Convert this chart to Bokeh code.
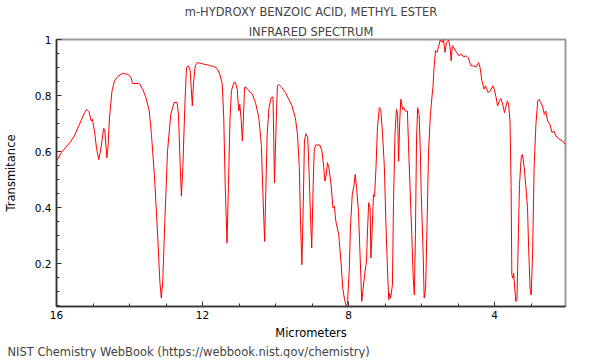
from bokeh.plotting import figure
from bokeh.models import Range1d, FixedTicker, Title
from bokeh.embed import file_html
from bokeh.resources import INLINE

title_line1 = "m-HYDROXY BENZOIC ACID, METHYL ESTER"
title_line2 = "INFRARED SPECTRUM"
x_label = "Micrometers"
y_label = "Transmitance"
footer = "NIST Chemistry WebBook (https://webbook.nist.gov/chemistry)"

x_major = [16, 12, 8, 4]
x_minor = [15, 14, 13, 11, 10, 9, 7, 6, 5, 3]
y_major = [0.2, 0.4, 0.6, 0.8, 1.0]
y_minor = [round(0.05 * i, 2) for i in range(1, 20)]

wavelength_um = [
    16.0, 15.87, 15.64, 15.51, 15.37, 15.23, 15.17, 15.11, 15.05, 15.02,
    14.96, 14.90, 14.84, 14.78, 14.71, 14.68, 14.62, 14.59, 14.55, 14.48,
    14.41, 14.32, 14.18, 14.12, 14.05, 13.96, 13.92, 13.73, 13.64, 13.55,
    13.46, 13.40, 13.32, 13.23, 13.17, 13.13, 13.09, 13.04, 12.96, 12.87,
    12.78, 12.70, 12.66, 12.61, 12.58, 12.54, 12.48, 12.44, 12.39, 12.34,
    12.28, 12.25, 12.20, 12.14, 12.05, 11.96, 11.87, 11.78, 11.69, 11.60,
    11.53, 11.46, 11.42, 11.38, 11.33, 11.29, 11.25, 11.21, 11.14, 11.10,
    11.05, 11.01, 10.98, 10.94, 10.91, 10.88, 10.85, 10.81, 10.73, 10.64,
    10.55, 10.46, 10.39, 10.34, 10.30, 10.27, 10.23, 10.18, 10.12, 10.07,
    10.03, 9.98, 9.95, 9.92, 9.83, 9.73, 9.64, 9.55, 9.46, 9.40,
    9.35, 9.32, 9.28, 9.24, 9.21, 9.17, 9.12, 9.08, 9.04, 9.01,
    8.97, 8.94, 8.90, 8.79, 8.73, 8.68, 8.65, 8.61, 8.58, 8.54,
    8.48, 8.43, 8.39, 8.35, 8.27, 8.21, 8.16, 8.11, 8.06, 8.03,
    7.98, 7.95, 7.90, 7.85, 7.82, 7.78, 7.73, 7.69, 7.64, 7.60,
    7.55, 7.51, 7.48, 7.45, 7.41, 7.39, 7.36, 7.32, 7.29, 7.25,
    7.21, 7.16, 7.12, 7.07, 7.02, 6.98, 6.93, 6.90, 6.88, 6.85,
    6.80, 6.77, 6.73, 6.69, 6.66, 6.63, 6.60, 6.57, 6.52, 6.49,
    6.45, 6.39, 6.36, 6.32, 6.27, 6.23, 6.20, 6.17, 6.14, 6.11,
    6.07, 6.04, 6.01, 5.96, 5.93, 5.89, 5.85, 5.81, 5.76, 5.71,
    5.69, 5.66, 5.62, 5.58, 5.53, 5.49, 5.44, 5.40, 5.36, 5.32,
    5.26, 5.22, 5.19, 5.16, 5.10, 5.04, 4.98, 4.91, 4.85, 4.78,
    4.72, 4.65, 4.58, 4.51, 4.44, 4.40, 4.35, 4.29, 4.25, 4.18,
    4.12, 4.05, 4.01, 3.96, 3.92, 3.87, 3.83, 3.78, 3.73, 3.69,
    3.65, 3.62, 3.58, 3.55, 3.53, 3.50, 3.48, 3.45, 3.42, 3.39,
    3.35, 3.32, 3.27, 3.24, 3.19, 3.15, 3.10, 3.07, 3.03, 3.00,
    2.96, 2.92, 2.87, 2.82, 2.78, 2.74, 2.69, 2.64, 2.60, 2.55,
    2.49, 2.43, 2.38, 2.32, 2.23, 2.14, 2.07,
]

transmittance = [
    0.566, 0.596, 0.632, 0.656, 0.698, 0.739, 0.751, 0.743, 0.710, 0.716,
    0.674, 0.608, 0.572, 0.614, 0.683, 0.680, 0.578, 0.614, 0.720, 0.817,
    0.853, 0.868, 0.880, 0.877, 0.876, 0.865, 0.843, 0.843, 0.823, 0.793,
    0.745, 0.662, 0.519, 0.304, 0.137, 0.078, 0.137, 0.328, 0.602, 0.733,
    0.775, 0.776, 0.733, 0.543, 0.441, 0.543, 0.781, 0.900, 0.906, 0.890,
    0.763, 0.841, 0.906, 0.918, 0.915, 0.912, 0.910, 0.906, 0.904, 0.897,
    0.877, 0.841, 0.722, 0.483, 0.274, 0.483, 0.710, 0.817, 0.847, 0.847,
    0.823, 0.745, 0.769, 0.710, 0.638, 0.720, 0.829, 0.830, 0.817, 0.805,
    0.775, 0.722, 0.626, 0.423, 0.280, 0.447, 0.662, 0.757, 0.793, 0.795,
    0.489, 0.720, 0.835, 0.840, 0.829, 0.811, 0.787, 0.763, 0.722, 0.662,
    0.543, 0.364, 0.197, 0.423, 0.638, 0.664, 0.652, 0.519, 0.352, 0.257,
    0.483, 0.608, 0.624, 0.624, 0.602, 0.543, 0.495, 0.519, 0.561, 0.543,
    0.483, 0.400, 0.406, 0.352, 0.304, 0.209, 0.113, 0.072, 0.048, 0.060,
    0.185, 0.328, 0.447, 0.483, 0.519, 0.470, 0.387, 0.244, 0.066, 0.113,
    0.173, 0.210, 0.328, 0.418, 0.400, 0.221, 0.304, 0.447, 0.440, 0.543,
    0.686, 0.757, 0.751, 0.662, 0.543, 0.352, 0.161, 0.072, 0.096, 0.078,
    0.125, 0.423, 0.662, 0.751, 0.733, 0.566, 0.710, 0.787, 0.751, 0.757,
    0.745, 0.745, 0.626, 0.483, 0.304, 0.149, 0.089, 0.304, 0.638, 0.757,
    0.733, 0.620, 0.447, 0.244, 0.078, 0.113, 0.352, 0.602, 0.733, 0.805,
    0.829, 0.900, 0.960, 0.954, 0.978, 0.998, 0.990, 1.000, 0.954, 0.990,
    0.998, 0.970, 0.924, 0.978, 0.966, 0.954, 0.942, 0.948, 0.938, 0.942,
    0.934, 0.906, 0.906, 0.902, 0.918, 0.900, 0.853, 0.823, 0.835, 0.811,
    0.817, 0.835, 0.823, 0.793, 0.763, 0.781, 0.790, 0.769, 0.739, 0.763,
    0.781, 0.769, 0.710, 0.483, 0.161, 0.149, 0.167, 0.113, 0.066, 0.072,
    0.304, 0.483, 0.584, 0.590, 0.543, 0.483, 0.400, 0.257, 0.113, 0.089,
    0.244, 0.543, 0.698, 0.781, 0.787, 0.775, 0.763, 0.733, 0.745, 0.710,
    0.698, 0.668, 0.674, 0.656, 0.644, 0.638, 0.626,
]

FONT = "DejaVu Sans"

p = figure(
    frame_width=509, frame_height=267,
    x_range=Range1d(16, 2.06), y_range=Range1d(0.048, 1.0),
    output_backend="svg", toolbar_location=None,
    min_border_left=0, min_border_right=26,
    min_border_top=0, min_border_bottom=0,
    background_fill_color="white", border_fill_color="white",
)
p.grid.visible = False
p.outline_line_color = "#999999"
p.outline_line_width = 2

p.line(x=wavelength_um, y=transmittance, line_color="red", line_width=1)

for ax in (p.xaxis[0], p.yaxis[0]):
    ax.axis_line_color = "#333333"
    ax.axis_line_width = 1.5
    ax.major_tick_in = 5
    ax.major_tick_out = 0
    ax.minor_tick_in = 3
    ax.minor_tick_out = 0
    ax.major_tick_line_color = "#333333"
    ax.minor_tick_line_color = "#333333"
    ax.major_label_text_font = FONT
    ax.major_label_text_font_size = "10.5px"
    ax.major_label_text_color = "black"
    ax.axis_label_text_font = FONT
    ax.axis_label_text_font_size = "11.5px"
    ax.axis_label_text_font_style = "normal"
    ax.axis_label_text_color = "black"

p.xaxis.ticker = FixedTicker(ticks=x_major, minor_ticks=x_minor)
p.yaxis.ticker = FixedTicker(ticks=y_major, minor_ticks=y_minor)
p.yaxis.major_label_overrides = {1.0: "1", 0.8: "0.8", 0.6: "0.6", 0.4: "0.4", 0.2: "0.2"}
p.xaxis.axis_label = x_label
p.yaxis.axis_label = y_label
p.xaxis.major_label_standoff = 4
p.xaxis.axis_label_standoff = 4
p.yaxis.major_label_standoff = 5
p.yaxis.axis_label_standoff = 14

p.add_layout(Title(text=title_line2, align="center", text_font=FONT,
                   text_font_size="11.5px", text_font_style="normal",
                   standoff=2), "above")
p.add_layout(Title(text=title_line1, align="center", text_font=FONT,
                   text_font_size="11.5px", text_font_style="normal",
                   standoff=5), "above")
p.add_layout(Title(text=footer, align="left", offset=-49, text_font=FONT,
                   text_font_size="11.5px", text_font_style="normal",
                   standoff=0), "below")

open("out.html", "w").write(file_html(p, INLINE))
